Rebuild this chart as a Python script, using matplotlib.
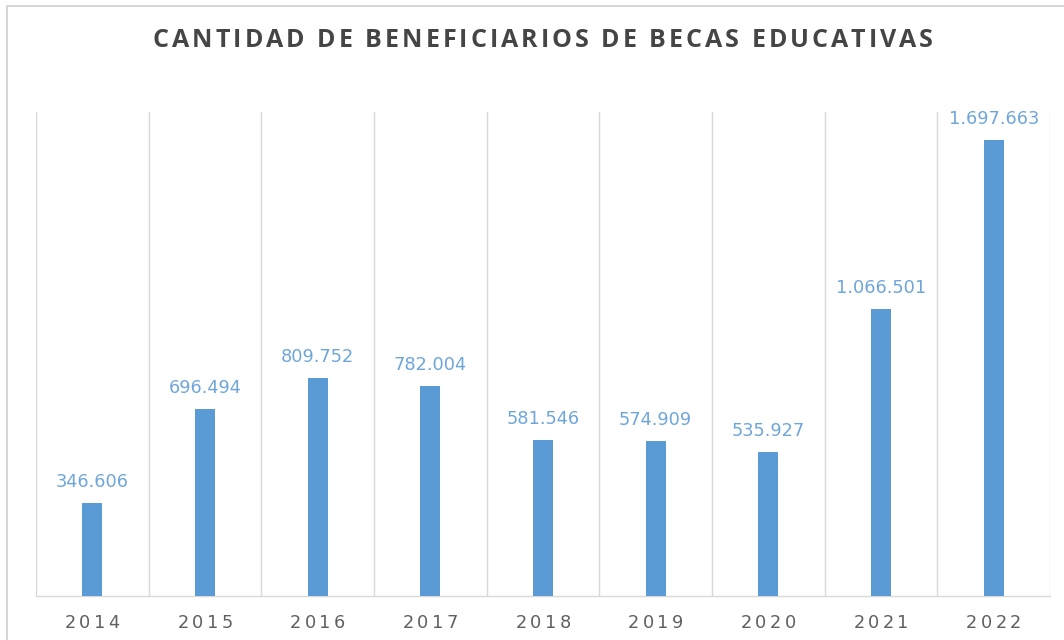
import matplotlib
matplotlib.use("Agg")
import matplotlib.pyplot as plt
import matplotlib.transforms as mtransforms
from matplotlib.font_manager import FontProperties
from matplotlib.textpath import TextToPath
from matplotlib.patches import Rectangle

years = ["2014", "2015", "2016", "2017", "2018", "2019", "2020", "2021", "2022"]
beneficiarios = [346606, 696494, 809752, 782004, 581546, 574909, 535927, 1066501, 1697663]
title = "CANTIDAD DE BENEFICIARIOS DE BECAS EDUCATIVAS"

BAR = "#5B9BD5"
LABEL = "#6FA6DA"
GRID = "#D9D9D9"
TITLE_C = "#454545"
TICK_C = "#606060"

fig = plt.figure(figsize=(10.64, 6.4), dpi=100)
ax = fig.add_axes([36/1064, 44/640, (1050-36)/1064, (596-112)/640])

# outer frame
fig.patches.append(Rectangle((7/1064, -0.1), 1.2, 1 - 6/640 + 0.1, transform=fig.transFigure,
                             fill=False, edgecolor="#D0D0D0", linewidth=1.2))

x = list(range(len(years)))
ax.bar(x, beneficiarios, width=0.18, color=BAR, zorder=3)
ax.set_xlim(-0.5, len(years) - 0.5)
ax.set_ylim(0, 1800000)

for b in [i - 0.5 for i in range(len(years) + 1)]:
    ax.axvline(b, color=GRID, linewidth=1, zorder=1)

for s in ["top", "left", "right"]:
    ax.spines[s].set_visible(False)
ax.spines["bottom"].set_color(GRID)
ax.spines["bottom"].set_linewidth(1)
ax.set_yticks([])
ax.set_xticks([])

for xi, v in zip(x, beneficiarios):
    ax.annotate(f"{v:,}".replace(",", "."), (xi, v), xytext=(0, 11.5), textcoords="offset points",
                ha="center", va="baseline", color=LABEL, fontsize=12.8, family="DejaVu Sans")

ttp = TextToPath()


def adv(c, prop):
    w1 = ttp.get_text_width_height_descent("|" + c + "|", prop, ismath=False)[0]
    w0 = ttp.get_text_width_height_descent("||", prop, ismath=False)[0]
    return w1 - w0


def spaced(x0, y0, s, base_transform, prop, color, spacing=None, total=None, dy=0):
    advs = [adv(c, prop) for c in s]
    if total is not None:
        spacing = (total - sum(advs)) / (len(s) - 1)
    width = sum(advs) + spacing * (len(s) - 1)
    dx = -width / 2
    for c, a in zip(s, advs):
        tr = base_transform + mtransforms.ScaledTranslation(dx / 72, dy / 72, fig.dpi_scale_trans)
        fig.text(x0, y0, c, transform=tr, ha="left", va="baseline", fontproperties=prop, color=color)
        dx += a + spacing


tprop = FontProperties(family="Open Sans", weight="bold", size=18)
spaced(543/1064, 1 - 47/640, title, fig.transFigure, tprop, TITLE_C, total=(933 - 153) * 0.72)

kprop = FontProperties(family="DejaVu Sans", size=12.8)
blend = mtransforms.blended_transform_factory(ax.transData, ax.transAxes)
for xi, yr in zip(x, years):
    spaced(xi, 0, yr, blend, kprop, TICK_C, spacing=2.4, dy=-23)

fig.savefig("out.png", dpi=100, facecolor="white")
